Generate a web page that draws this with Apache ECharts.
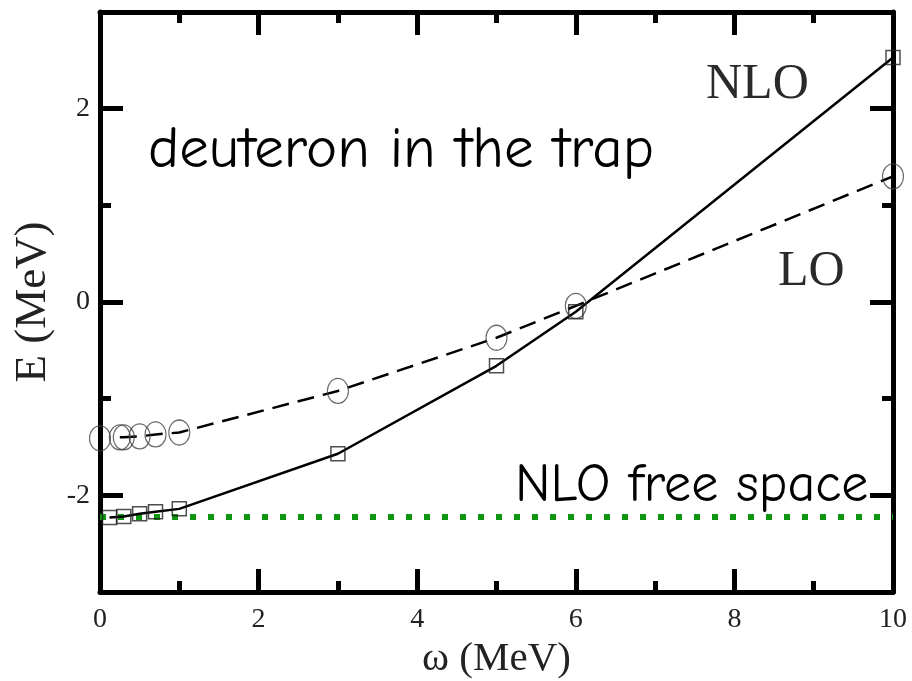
<!DOCTYPE html>
<html>
<head>
<meta charset="utf-8">
<script src="https://cdn.jsdelivr.net/npm/echarts@6/dist/echarts.min.js"></script>
<style>html,body{margin:0;padding:0;background:#fff}#c{width:912px;height:681px}</style>
</head>
<body>
<div id="c"></div>
<script>
// ---- data ----
const omegaLO   = [0, 0.25, 0.3, 0.5, 0.7, 1, 3, 5, 6, 10];
const energyLO  = [-1.41, -1.40, -1.40, -1.39, -1.37, -1.35, -0.92, -0.37, -0.04, 1.30];
const omegaNLO  = [0.12, 0.3, 0.5, 0.7, 1, 3, 5, 6, 10];
const energyNLO = [-2.23, -2.22, -2.19, -2.17, -2.14, -1.57, -0.66, -0.10, 2.53];
const freeSpaceOmega = [0, 10];
const freeSpaceE = -2.224;
const xTickLabels = [0, 2, 4, 6, 8, 10];
const yTickLabels = [-2, 0, 2];

const ptsLO = omegaLO.map((x, i) => [x, energyLO[i]]);
const ptsNLO = omegaNLO.map((x, i) => [x, energyNLO[i]]);
const ptsFree = freeSpaceOmega.map(x => [x, freeSpaceE]);

const serif = '"Liberation Serif", "DejaVu Serif", serif';
const comic = '"Comic Sans MS", "Comic Neue", "Noto Sans", "DejaVu Sans", sans-serif';
const black5 = { color: '#000', width: 5 };

// plot frame geometry
const G = { left: 100, right: 19, top: 12, bottom: 89 };
const unitPx = (681 - G.top - G.bottom) / 6; // y range -3..3

const chart = echarts.init(document.getElementById('c'), null, { renderer: 'canvas' });

const tickX = {
  type: 'value', min: 0, max: 10, interval: 2,
  axisLine: { show: true, onZero: false, lineStyle: black5 },
  axisTick: { show: true, inside: true, length: 23, lineStyle: black5 },
  minorTick: { show: true, splitNumber: 2, length: 11, lineStyle: black5 },
  splitLine: { show: false }, minorSplitLine: { show: false }
};
// tick-only y axes in a helper grid spanning -4..4 at identical scale
const tickY = {
  type: 'value', min: -4, max: 4, interval: 2, gridIndex: 1,
  axisLine: { show: false },
  axisTick: { show: true, inside: true, length: 23, lineStyle: black5 },
  minorTick: { show: true, splitNumber: 2, length: 11, lineStyle: black5 },
  splitLine: { show: false }, minorSplitLine: { show: false }
};

const option = {
  backgroundColor: '#fff',
  animation: false,
  grid: [
    { left: G.left, right: G.right, top: G.top, bottom: G.bottom, outerBoundsMode: 'none', containLabel: false },
    { left: G.left, right: G.right, top: G.top - unitPx, bottom: G.bottom - unitPx, outerBoundsMode: 'none', containLabel: false }
  ],
  xAxis: [
    Object.assign({}, tickX, {
      position: 'bottom',
      name: 'ω (MeV)', nameLocation: 'middle', nameGap: 38,
      nameTextStyle: { fontFamily: serif, fontSize: 41, color: '#222' },
      axisLabel: { show: true, margin: 14, fontFamily: serif, fontSize: 28, color: '#222' }
    }),
    Object.assign({}, tickX, { position: 'top', axisLabel: { show: false } }),
    { type: 'value', min: 0, max: 10, gridIndex: 1, show: false }
  ],
  yAxis: [
    {
      type: 'value', min: -3, max: 3, position: 'left',
      name: 'E (MeV)', nameLocation: 'middle', nameGap: 44,
      nameTextStyle: { fontFamily: serif, fontSize: 45, color: '#222' },
      axisLine: { show: true, onZero: false, lineStyle: black5 },
      axisTick: { show: false }, axisLabel: { show: false }, splitLine: { show: false }
    },
    {
      type: 'value', min: -3, max: 3, position: 'right',
      axisLine: { show: true, onZero: false, lineStyle: black5 },
      axisTick: { show: false }, axisLabel: { show: false }, splitLine: { show: false }
    },
    Object.assign({}, tickY, {
      position: 'left',
      axisLabel: { show: true, margin: 10, fontFamily: serif, fontSize: 28, color: '#222',
        formatter: v => (yTickLabels.indexOf(v) >= 0 ? String(v) : '') }
    }),
    Object.assign({}, tickY, { position: 'right', axisLabel: { show: false } })
  ],
  series: [
    {
      name: 'NLO free space', type: 'line', data: ptsFree, symbol: 'none', silent: true,
      lineStyle: { color: '#119611', width: 6, type: [6, 12], cap: 'butt' }, z: 1
    },
    {
      name: 'LO line', type: 'line', data: ptsLO.slice(1), symbol: 'none',
      lineStyle: { color: '#000', width: 2.5, type: [17, 9] }, z: 2
    },
    {
      name: 'NLO line', type: 'line', data: ptsNLO, symbol: 'none',
      lineStyle: { color: '#000', width: 2.5 }, z: 2
    },
    {
      name: 'LO', type: 'scatter', data: ptsLO, symbol: 'circle', symbolSize: [21, 25],
      itemStyle: { color: 'rgba(0,0,0,0)', borderColor: '#444', borderWidth: 1.2 }, z: 3
    },
    {
      name: 'NLO', type: 'scatter', data: ptsNLO, symbol: 'rect', symbolSize: 14,
      itemStyle: { color: 'rgba(0,0,0,0)', borderColor: '#222', borderWidth: 1.5 }, z: 3
    }
  ],
  graphic: [
    { type: 'text', left: 706, top: 60, style: { text: 'NLO', fontFamily: serif, fontSize: 50, fill: '#2a2a2a' } },
    { type: 'text', left: 778, top: 247, style: { text: 'LO', fontFamily: serif, fontSize: 50, fill: '#2a2a2a' } },
    { type: 'text', left: 148, top: 121, style: { text: 'deuteron in the trap', fontFamily: comic, fontSize: 59, fill: '#000' } },
    { type: 'text', left: 515, top: 459, style: { text: 'NLO free space', fontFamily: comic, fontSize: 54, fill: '#000' } }
  ]
};
chart.setOption(option);
</script>
</body>
</html>
